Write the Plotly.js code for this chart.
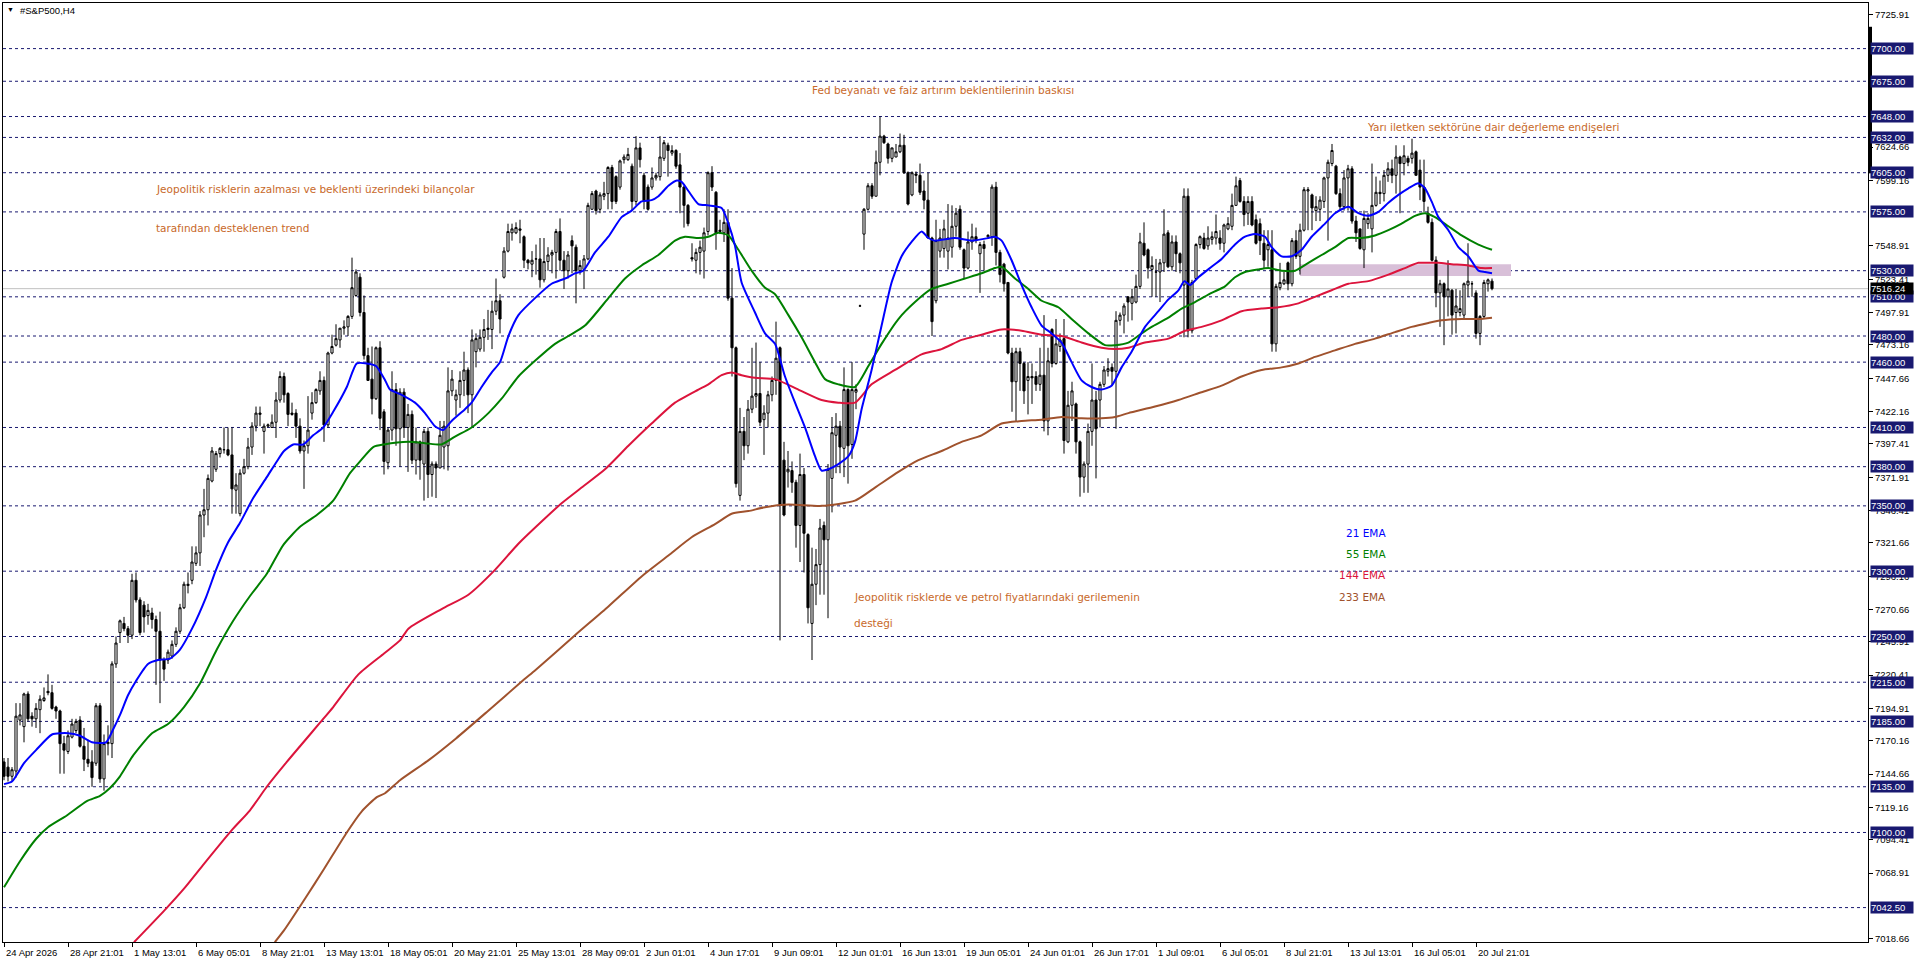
<!DOCTYPE html>
<html><head><meta charset="utf-8">
<script src="https://cdn.plot.ly/plotly-3.0.1.min.js"></script>
<style>html,body{margin:0;padding:0;background:#fff;}#chart{width:1916px;height:963px;}</style>
</head><body><div id="chart"></div>
<script>
// ---- OHLC (H4 bars, index 0 = 24 Apr 2026 09:01) ----
const openP = [
7154,7150,7143,7147,7186,7181,7206,7189,7187,7194,
7201,7208,7207,7196,7193,7168,7162,7173,7178,7186,
7166,7156,7154,7153,7197,7141,7168,7168,7229,7253,
7260,7256,7251,7293,7278,7274,7266,7268,7263,7254,
7232,7232,7235,7244,7254,7272,7289,7293,7306,7314,
7343,7347,7369,7378,7390,7393,7393,7389,7362,7344,
7375,7380,7395,7411,7420,7407,7411,7410,7414,7431,
7449,7436,7421,7421,7411,7392,7396,7421,7429,7438,
7446,7412,7467,7473,7477,7486,7487,7495,7511,7525,
7498,7465,7447,7432,7471,7422,7383,7408,7439,7409,
7437,7410,7420,7385,7399,7382,7407,7374,7382,7379,
7395,7396,7438,7431,7435,7446,7454,7435,7468,7470,
7479,7485,7485,7499,7507,7525,7545,7559,7559,7562,
7556,7538,7535,7539,7539,7523,7537,7542,7544,7560,
7538,7530,7553,7548,7530,7531,7539,7577,7591,7577,
7587,7589,7609,7602,7594,7615,7615,7610,7583,7624,
7603,7594,7594,7601,7602,7616,7626,7620,7622,7611,
7594,7580,7540,7538,7544,7545,7560,7605,7590,7560,
7559,7567,7509,7471,7358,7407,7396,7424,7434,7436,
7416,7421,7435,7446,7471,7385,7376,7377,7368,7335,
7374,7328,7260,7290,7305,7335,7324,7371,7404,7411,
7394,7439,7397,7437,7503,7558,7577,7595,7587,7613,
7633,7627,7616,7617,7621,7626,7605,7588,7604,7603,
7591,7584,7555,7507,7545,7547,7545,7548,7564,7577,
7546,7532,7552,7556,7543,7550,7556,7556,7594,7544,
7535,7521,7467,7445,7468,7459,7446,7449,7449,7443,
7450,7415,7485,7459,7472,7478,7399,7427,7428,7399,
7372,7382,7407,7431,7431,7443,7453,7456,7453,7492,
7496,7510,7505,7506,7518,7551,7546,7531,7529,7529,
7536,7559,7533,7552,7543,7519,7587,7484,7524,7550,
7555,7549,7554,7555,7555,7551,7562,7564,7580,7599,
7583,7574,7583,7569,7566,7551,7546,7546,7474,7517,
7520,7536,7520,7553,7541,7561,7591,7588,7576,7577,
7583,7601,7612,7610,7589,7579,7601,7608,7568,7562,
7546,7566,7562,7580,7590,7589,7603,7608,7603,7617,
7612,7616,7616,7621,7607,7594,7574,7567,7538,7513,
7520,7510,7515,7498,7498,7496,7519,7520,7513,7482,
7495,7520,7522];
const highP = [
7157,7157,7150,7199,7199,7207,7208,7192,7199,7205,
7211,7221,7213,7197,7194,7174,7178,7187,7187,7189,
7180,7171,7163,7199,7199,7175,7182,7231,7250,7263,
7265,7258,7298,7299,7280,7277,7275,7272,7266,7269,
7234,7240,7247,7257,7275,7292,7299,7319,7319,7346,
7363,7374,7395,7392,7395,7410,7410,7410,7375,7378,
7386,7402,7414,7426,7426,7413,7413,7420,7437,7453,
7452,7437,7429,7424,7417,7400,7434,7437,7440,7453,
7449,7468,7481,7489,7486,7492,7496,7540,7531,7528,
7511,7471,7472,7472,7476,7424,7410,7453,7444,7440,
7440,7428,7423,7410,7400,7409,7410,7384,7384,7415,
7415,7456,7454,7439,7453,7468,7456,7485,7482,7485,
7493,7500,7507,7524,7512,7548,7566,7566,7567,7569,
7557,7539,7545,7550,7555,7555,7548,7546,7562,7570,
7545,7545,7557,7550,7538,7542,7582,7591,7592,7590,
7598,7610,7611,7603,7615,7619,7624,7612,7633,7628,
7605,7596,7609,7605,7633,7630,7628,7626,7623,7620,
7595,7581,7551,7547,7553,7563,7606,7610,7591,7569,
7577,7577,7532,7472,7425,7418,7431,7471,7475,7460,
7427,7438,7449,7491,7472,7399,7392,7384,7370,7390,
7379,7329,7318,7317,7340,7338,7382,7418,7421,7415,
7456,7440,7460,7443,7504,7578,7597,7597,7622,7648,
7634,7628,7624,7627,7635,7634,7606,7606,7606,7612,
7599,7605,7556,7569,7562,7569,7581,7580,7578,7580,
7547,7560,7566,7563,7552,7553,7558,7596,7598,7546,
7536,7521,7471,7471,7471,7460,7460,7459,7453,7471,
7496,7471,7486,7493,7482,7493,7438,7445,7429,7400,
7384,7413,7459,7438,7445,7457,7463,7459,7499,7498,
7505,7510,7516,7527,7559,7567,7547,7541,7539,7539,
7577,7561,7557,7557,7544,7593,7593,7523,7551,7557,
7559,7564,7560,7573,7561,7566,7571,7589,7602,7601,
7587,7587,7587,7573,7570,7561,7561,7561,7520,7536,
7529,7537,7555,7561,7566,7594,7594,7589,7587,7587,
7602,7615,7627,7611,7593,7607,7611,7610,7572,7562,
7576,7574,7612,7602,7599,7607,7613,7615,7626,7618,
7626,7618,7631,7622,7615,7615,7579,7570,7541,7523,
7521,7538,7516,7516,7515,7521,7551,7522,7515,7496,
7523,7524,7524];
const lowP = [
7140,7139,7139,7142,7182,7169,7185,7181,7180,7176,
7200,7205,7194,7187,7145,7145,7160,7172,7176,7165,
7147,7150,7135,7151,7138,7132,7159,7157,7226,7245,
7254,7245,7248,7276,7251,7253,7259,7256,7213,7199,
7216,7229,7233,7242,7252,7271,7283,7290,7304,7304,
7326,7335,7368,7376,7387,7390,7388,7344,7344,7342,
7374,7378,7389,7407,7411,7390,7410,7410,7402,7429,
7429,7411,7419,7402,7390,7363,7390,7416,7428,7435,
7399,7410,7466,7472,7471,7481,7480,7493,7510,7495,
7462,7446,7420,7431,7408,7374,7378,7400,7396,7380,
7402,7376,7382,7374,7370,7354,7356,7357,7356,7379,
7378,7377,7434,7419,7425,7434,7421,7410,7456,7468,
7468,7477,7470,7496,7482,7524,7544,7553,7558,7551,
7532,7531,7525,7527,7517,7521,7530,7528,7524,7530,
7516,7524,7528,7505,7527,7516,7538,7577,7573,7574,
7584,7577,7577,7581,7592,7612,7614,7576,7580,7609,
7577,7576,7592,7599,7599,7614,7602,7618,7608,7574,
7563,7564,7537,7528,7527,7524,7557,7591,7546,7558,
7552,7507,7449,7364,7354,7385,7390,7421,7425,7411,
7389,7410,7430,7435,7247,7342,7364,7360,7318,7307,
7299,7260,7232,7274,7282,7282,7264,7345,7375,7375,
7372,7367,7386,7424,7503,7546,7576,7585,7587,7603,
7627,7612,7613,7617,7620,7604,7580,7587,7597,7588,
7577,7555,7480,7505,7540,7540,7531,7540,7556,7546,
7524,7531,7546,7551,7513,7530,7555,7549,7534,7521,
7514,7466,7422,7415,7438,7428,7420,7428,7438,7438,
7407,7404,7456,7458,7468,7390,7398,7415,7390,7357,
7360,7360,7396,7371,7410,7441,7449,7442,7409,7488,
7482,7491,7492,7505,7516,7541,7524,7510,7510,7506,
7529,7532,7530,7529,7528,7479,7479,7482,7523,7547,
7546,7546,7550,7550,7546,7544,7561,7561,7580,7582,
7564,7565,7564,7550,7542,7532,7533,7468,7468,7515,
7519,7515,7518,7539,7527,7560,7561,7561,7568,7568,
7578,7553,7610,7588,7576,7576,7576,7566,7552,7546,
7532,7562,7544,7579,7581,7583,7598,7597,7589,7574,
7603,7610,7612,7603,7584,7575,7566,7537,7502,7487,
7473,7495,7481,7482,7495,7493,7510,7510,7478,7473,
7493,7514,7515];
const closeP = [
7143,7143,7148,7189,7190,7206,7187,7187,7195,7202,
7203,7207,7195,7193,7168,7163,7174,7183,7185,7166,
7156,7153,7142,7197,7141,7168,7169,7229,7245,7262,
7256,7251,7293,7278,7253,7265,7270,7263,7254,7232,
7225,7238,7244,7254,7272,7290,7290,7307,7314,7343,
7347,7371,7392,7390,7394,7393,7389,7363,7366,7375,
7380,7395,7411,7421,7421,7411,7412,7414,7431,7449,
7435,7420,7420,7411,7392,7396,7408,7429,7439,7446,
7412,7467,7472,7478,7486,7487,7495,7517,7529,7498,
7465,7446,7432,7471,7417,7384,7408,7439,7409,7437,
7410,7420,7385,7399,7385,7407,7374,7382,7379,7404,
7411,7438,7447,7435,7446,7454,7435,7477,7478,7479,
7485,7486,7499,7507,7493,7545,7560,7562,7563,7561,
7538,7536,7538,7539,7523,7537,7542,7544,7560,7538,
7530,7542,7549,7530,7534,7539,7580,7589,7576,7588,
7589,7609,7583,7583,7614,7617,7619,7583,7624,7615,
7583,7577,7601,7603,7617,7628,7622,7622,7610,7594,
7580,7566,7539,7544,7548,7559,7605,7594,7559,7561,
7567,7509,7471,7367,7407,7396,7424,7434,7436,7414,
7421,7435,7446,7463,7351,7343,7378,7368,7335,7374,
7329,7272,7290,7305,7333,7324,7378,7406,7411,7395,
7439,7396,7439,7439,7503,7577,7595,7587,7613,7633,
7628,7616,7624,7621,7626,7605,7581,7605,7603,7590,
7584,7555,7491,7553,7555,7562,7555,7564,7574,7548,
7532,7552,7556,7553,7550,7547,7557,7594,7544,7527,
7520,7467,7445,7468,7459,7438,7449,7448,7443,7450,
7415,7461,7459,7474,7477,7400,7427,7438,7399,7372,
7382,7407,7431,7409,7443,7454,7455,7453,7492,7496,
7503,7506,7510,7518,7552,7542,7532,7534,7529,7536,
7558,7533,7552,7543,7536,7587,7484,7521,7550,7556,
7547,7555,7556,7560,7551,7565,7566,7580,7595,7583,
7573,7583,7565,7551,7553,7538,7550,7474,7518,7521,
7523,7520,7553,7541,7561,7592,7592,7578,7579,7584,
7601,7613,7622,7589,7579,7601,7608,7568,7559,7547,
7570,7570,7580,7590,7589,7603,7608,7603,7617,7612,
7618,7613,7620,7603,7594,7583,7567,7538,7513,7520,
7510,7516,7496,7503,7501,7520,7522,7520,7482,7495,
7521,7523,7516.24];

// ---- Moving averages (bar index, price) ----
const ema21X = [0,2,5,8,12,16,19,22,25.5,27.3,29,31,33,36,38.5,41.5,44,47,50.5,53,56,59,62.3,65.7,68.2,70,72.3,74.8,77.3,79.8,82.3,85.7,88.2,90.7,93,95.3,96.5,99.4,102.75,105.25,107.75,109.8,111.9,115.25,116.9,119.4,121.9,124,126.1,128.6,132.75,136.9,140.25,142.75,144.8,147.75,151.1,154.4,156.9,159.4,161.9,163.6,166.1,168.2,169.4,171.1,173.6,176.1,179.4,181.1,182.75,184.4,187.75,190.25,192.75,195.25,197.75,200.25,202.75,204.4,206.1,208.6,211.1,212.75,214.4,216.9,219.4,221.9,224.4,226.9,229.4,231.1,232.75,237.75,241.9,246.1,247.75,249.4,251.9,254.4,256.9,259.4,261.9,264.4,266.9,269.4,271.9,274.4,276.9,279.4,281.9,285.25,288.6,291.1,293.6,295.1,296.5,298.6,301.9,304.4,307.75,310.25,312.75,315.25,316.9,319.4,321.9,324.4,326.9,330.25,332.75,336.1,338.6,341.1,343.6,346.1,348.6,351.1,353.6,355.25,356.9,358.6,361.1,363.6,366.1,368.6,370.25,372];
const ema21Y = [7137,7139,7153,7163,7175,7176,7174,7169,7169,7179,7190,7205,7216,7229,7232,7233,7240,7256,7280,7301,7322,7337,7356,7372,7384,7392,7397,7397,7404,7410,7422,7441,7459,7459,7457,7446,7439,7435,7429,7421,7411,7408,7415,7424,7429,7441,7452,7460,7480,7496,7509,7520,7524,7528,7530,7544,7556,7571,7576,7583,7584,7587,7595,7599,7598,7591,7581,7580,7578,7566,7549,7521,7498,7482,7474,7449,7429,7410,7388,7377,7378,7382,7388,7399,7424,7454,7488,7521,7541,7552,7560,7555,7553,7555,7553,7555,7556,7553,7538,7519,7502,7488,7482,7475,7460,7446,7441,7439,7442,7456,7468,7487,7499,7508,7515,7522,7519,7525,7533,7539,7550,7556,7558,7556,7548,7541,7541,7546,7556,7566,7574,7579,7574,7572,7575,7582,7588,7593,7597,7593,7583,7571,7561,7548,7541,7530,7529,7528];
const ema55X = [0,4,8,11,15.7,20.7,24,26.5,29,32.3,37,41,45,49,53.2,57.3,61.5,65.7,69.8,74,78.2,82.3,86.5,89,92.3,95,101.1,105.25,109.4,112.75,116.9,121.1,124.4,128.6,132.75,137.75,141.1,145.25,151.1,155.25,159.4,163.6,167.75,170.25,173.6,176.1,178.6,181.1,183.6,186.9,190.25,192.75,196.1,199.4,202.75,205.25,208.6,212.75,216.1,219.4,223.6,227.75,231.9,236.1,240.25,244.4,247.75,249.4,252.75,256.1,259.4,263.6,266.9,271.1,275.25,277.75,281.1,284.4,286.9,291.1,294.4,297.75,301.9,305.25,307.75,310.25,313.6,316.1,319.4,322.75,326.1,329.4,332.75,336.1,339.4,342.75,346.1,349.4,352.75,355.25,357.75,361.1,364.4,368.6,372];
const ema55Y = [7058,7078,7095,7104,7113,7124,7128,7134,7143,7159,7176,7183,7196,7214,7240,7262,7281,7298,7320,7334,7343,7354,7375,7384,7395,7397,7399,7398,7397,7403,7410,7421,7432,7449,7461,7474,7480,7488,7509,7524,7534,7542,7553,7556,7555,7556,7559,7557,7546,7530,7517,7512,7496,7479,7460,7447,7443,7441,7457,7474,7493,7506,7516,7520,7524,7528,7532,7533,7524,7516,7507,7502,7493,7482,7473,7473,7475,7482,7487,7494,7501,7506,7513,7518,7525,7529,7531,7532,7530,7530,7536,7542,7548,7555,7555,7557,7561,7566,7572,7574,7571,7564,7557,7550,7546];
const ema144X = [32.5,40,45,50,57,61.5,65.7,70.7,74,79,82.3,88.6,95,99,101.1,109.4,116.1,122.75,128.6,134.4,139.4,144.4,150.25,156.1,161.9,167.75,173.6,176.1,179.4,181.9,184.4,187.75,192.75,198.6,204.4,208.6,212.75,216.9,222.75,229.4,234.4,239.4,244.4,249.4,254.4,259.4,264.4,269.4,274.4,277.75,281.1,285.25,291.1,295.25,299.4,304.4,309.4,314.4,318.6,323.6,327.75,331.9,336.1,341.1,346.1,350.25,353.6,356.1,358.6,361.9,366.1,369.4,372];
const ema144Y = [7016,7040,7057,7076,7102,7117,7135,7154,7166,7184,7196,7221,7237,7247,7256,7271,7282,7301,7321,7338,7352,7364,7378,7396,7413,7429,7439,7443,7450,7452,7450,7448,7447,7439,7431,7429,7429,7443,7454,7466,7470,7477,7481,7485,7484,7481,7480,7475,7471,7470,7471,7475,7478,7484,7487,7492,7499,7501,7502,7505,7510,7515,7520,7522,7527,7532,7536,7536,7536,7535,7534,7532,7532];
const ema233X = [67.7,70,75.4,80,85.7,89.4,93.2,95.25,99,106,113,121,130,132.75,142.75,151.1,159.4,166.1,171.9,177.75,181.9,186.1,190.25,196.1,204.4,212.75,217.75,223.6,228.6,234.4,239.4,244.4,249.4,254.4,259.4,264.4,269.4,274.4,277.75,281.1,287.75,293.6,299.4,304.4,309.4,314.4,319.4,323.6,327.75,332.75,337.75,342.75,347.75,351.9,356.1,359.4,364.4,368.6,372];
const ema233Y = [7016,7025,7050,7072,7100,7116,7127,7130,7140,7155,7172,7193,7217,7224,7251,7273,7296,7312,7326,7336,7344,7346,7349,7351,7350,7354,7364,7376,7385,7392,7399,7404,7413,7415,7416,7418,7417,7417,7418,7421,7426,7431,7437,7442,7449,7454,7456,7459,7464,7469,7474,7478,7483,7487,7490,7492,7493,7493,7494];

// ---- axis / objects ----
const xTickBars = [0,16,32,48,64,80,96,112,128,144,160,176,192,208,224,240,256,272,288,304,320,336,352,368];
const xTickLabels = ['24 Apr 2026','28 Apr 21:01','1 May 13:01','6 May 05:01','8 May 21:01','13 May 13:01','18 May 05:01','20 May 21:01','25 May 13:01','28 May 09:01','2 Jun 01:01','4 Jun 17:01','9 Jun 09:01','12 Jun 01:01','16 Jun 13:01','19 Jun 05:01','24 Jun 01:01','26 Jun 17:01','1 Jul 09:01','6 Jul 05:01','8 Jul 21:01','13 Jul 13:01','16 Jul 05:01','20 Jul 21:01'];
const priceTicks = [7725.91,7624.66,7599.16,7548.91,7523.41,7497.91,7473.16,7447.66,7422.16,7397.41,7371.91,7346.41,7321.66,7296.16,7270.66,7245.91,7220.41,7194.91,7170.16,7144.66,7119.16,7094.41,7068.91,7018.66];
const levelLines = [7700,7675,7648,7632,7605,7575,7530,7510,7480,7460,7410,7380,7350,7300,7250,7215,7185,7135,7100,7042.5];
const lastPrice = 7516.24;
const zoneBars = [324, 376.75];
const zonePrices = [7526, 7535];
const notes = [
  {t:'Fed beyanatı ve faiz artırım beklentilerinin baskısı', bar:201.5, p:7668.3},
  {t:'Yarı iletken sektörüne dair değerleme endişeleri', bar:340.3, p:7640.2},
  {t:'Jeopolitik risklerin azalması ve beklenti üzerindeki bilançolar', bar:37.5, p:7592.2},
  {t:'tarafından desteklenen trend', bar:37.5, p:7562.3},
  {t:'Jeopolitik risklerde ve petrol fiyatlarındaki gerilemenin', bar:212, p:7280},
  {t:'desteği', bar:212, p:7260.4}
];
const emaLabels = ['21 EMA','55 EMA','144 EMA','233 EMA'];
const emaColors = ['#0000ff','#008000','#dc143c','#a0522d'];
const emaLabelPrices = [7329, 7313, 7297, 7280.5];

const bars = openP.map((_, i) => i);
const AXF = 'Liberation Sans, Arial, sans-serif';
const TXF = 'DejaVu Sans, Verdana, sans-serif';

function emaTrace(xs, ys, color) {
  return {type:'scatter', mode:'lines', x:xs, y:ys, line:{color:color, width:2, shape:'spline', smoothing:0.6}, hoverinfo:'skip'};
}

const traces = [
  {type:'candlestick', x:bars, open:openP, high:highP, low:lowP, close:closeP,
   increasing:{line:{color:'#000', width:1}, fillcolor:'#ffffff'},
   decreasing:{line:{color:'#000', width:1}, fillcolor:'#000000'},
   whiskerwidth:0, hoverinfo:'skip', showlegend:false},
  emaTrace(ema233X, ema233Y, emaColors[3]),
  emaTrace(ema144X, ema144Y, emaColors[2]),
  emaTrace(ema55X, ema55Y, emaColors[1]),
  emaTrace(ema21X, ema21Y, emaColors[0])
];

const shapes = [];
shapes.push({type:'rect', xref:'x', yref:'y', x0:zoneBars[0], x1:zoneBars[1], y0:zonePrices[0], y1:zonePrices[1], fillcolor:'#d8bfd8', line:{width:0}, layer:'below'});
levelLines.forEach(v => shapes.push({type:'line', xref:'paper', x0:0, x1:1, yref:'y', y0:v, y1:v, line:{color:'#191970', width:1, dash:'3px,3px'}, layer:'below'}));
shapes.push({type:'line', xref:'paper', x0:0, x1:1, yref:'y', y0:lastPrice, y1:lastPrice, line:{color:'#c0c0c0', width:1}, layer:'below'});
shapes.push({type:'rect', xref:'paper', x0:1, x1:1+4/1865, yref:'y', y0:7604.5, y1:7716.7, fillcolor:'#000', line:{width:0}});

const ann = [];
ann.push({xref:'paper', yref:'paper', x:0, y:1, xanchor:'left', yanchor:'top', xshift:2, yshift:-1, text:'▼', showarrow:false, font:{family:AXF, size:7, color:'#000'}});
ann.push({xref:'paper', yref:'paper', x:0, y:1, xanchor:'left', yanchor:'top', xshift:15, yshift:0, text:'#S&P500,H4', showarrow:false, font:{family:AXF, size:9.5, color:'#000'}});
levelLines.forEach(v => ann.push({xref:'paper', yref:'y', x:1, y:v, xanchor:'left', yanchor:'middle', xshift:2, text:v.toFixed(2), showarrow:false, bgcolor:'#191970', borderpad:0, width:42, height:11, align:'left', font:{family:AXF, size:9.5, color:'#ffffff'}}));
ann.push({xref:'paper', yref:'y', x:1, y:lastPrice, xanchor:'left', yanchor:'middle', xshift:2, text:lastPrice.toFixed(2), showarrow:false, bgcolor:'#000000', borderpad:0, width:42, height:11, align:'left', font:{family:AXF, size:9.5, color:'#ffffff'}});
xTickBars.forEach((b, i) => ann.push({xref:'x', yref:'paper', x:b, y:0, xanchor:'left', yanchor:'top', yshift:-3, text:xTickLabels[i], showarrow:false, font:{family:AXF, size:9.5, color:'#000'}}));
notes.forEach(n => ann.push({xref:'x', yref:'y', x:n.bar, y:n.p, xanchor:'left', yanchor:'middle', text:n.t, showarrow:false, font:{family:TXF, size:10.5, color:'#c8692a'}}));
emaLabels.forEach((t, i) => ann.push({xref:'x', yref:'y', x:346, y:emaLabelPrices[i], xanchor:'right', yanchor:'middle', text:t, showarrow:false, font:{family:TXF, size:10.5, color:emaColors[i]}}));

const layout = {
  width:1916, height:963,
  margin:{l:3, r:48, t:3, b:21, pad:0},
  paper_bgcolor:'#ffffff', plot_bgcolor:'#ffffff',
  showlegend:false,
  boxgap:0.25,
  xaxis:{range:[-0.25,466], showgrid:false, zeroline:false, showline:true, mirror:true, linecolor:'#000', linewidth:1,
         ticks:'outside', ticklen:4, tickcolor:'#000', tickvals:xTickBars, showticklabels:false,
         rangeslider:{visible:false}, fixedrange:true},
  yaxis:{range:[7016.16,7734.9], side:'right', showgrid:false, zeroline:false, showline:true, mirror:true, linecolor:'#000', linewidth:1,
         ticks:'outside', ticklen:4, tickcolor:'#000', tickvals:priceTicks, ticktext:priceTicks.map(v => v.toFixed(2)),
         tickfont:{family:AXF, size:9.5, color:'#000'}, fixedrange:true},
  shapes:shapes, annotations:ann
};

Plotly.newPlot('chart', traces, layout, {staticPlot:true, displayModeBar:false});
</script>
</body></html>
